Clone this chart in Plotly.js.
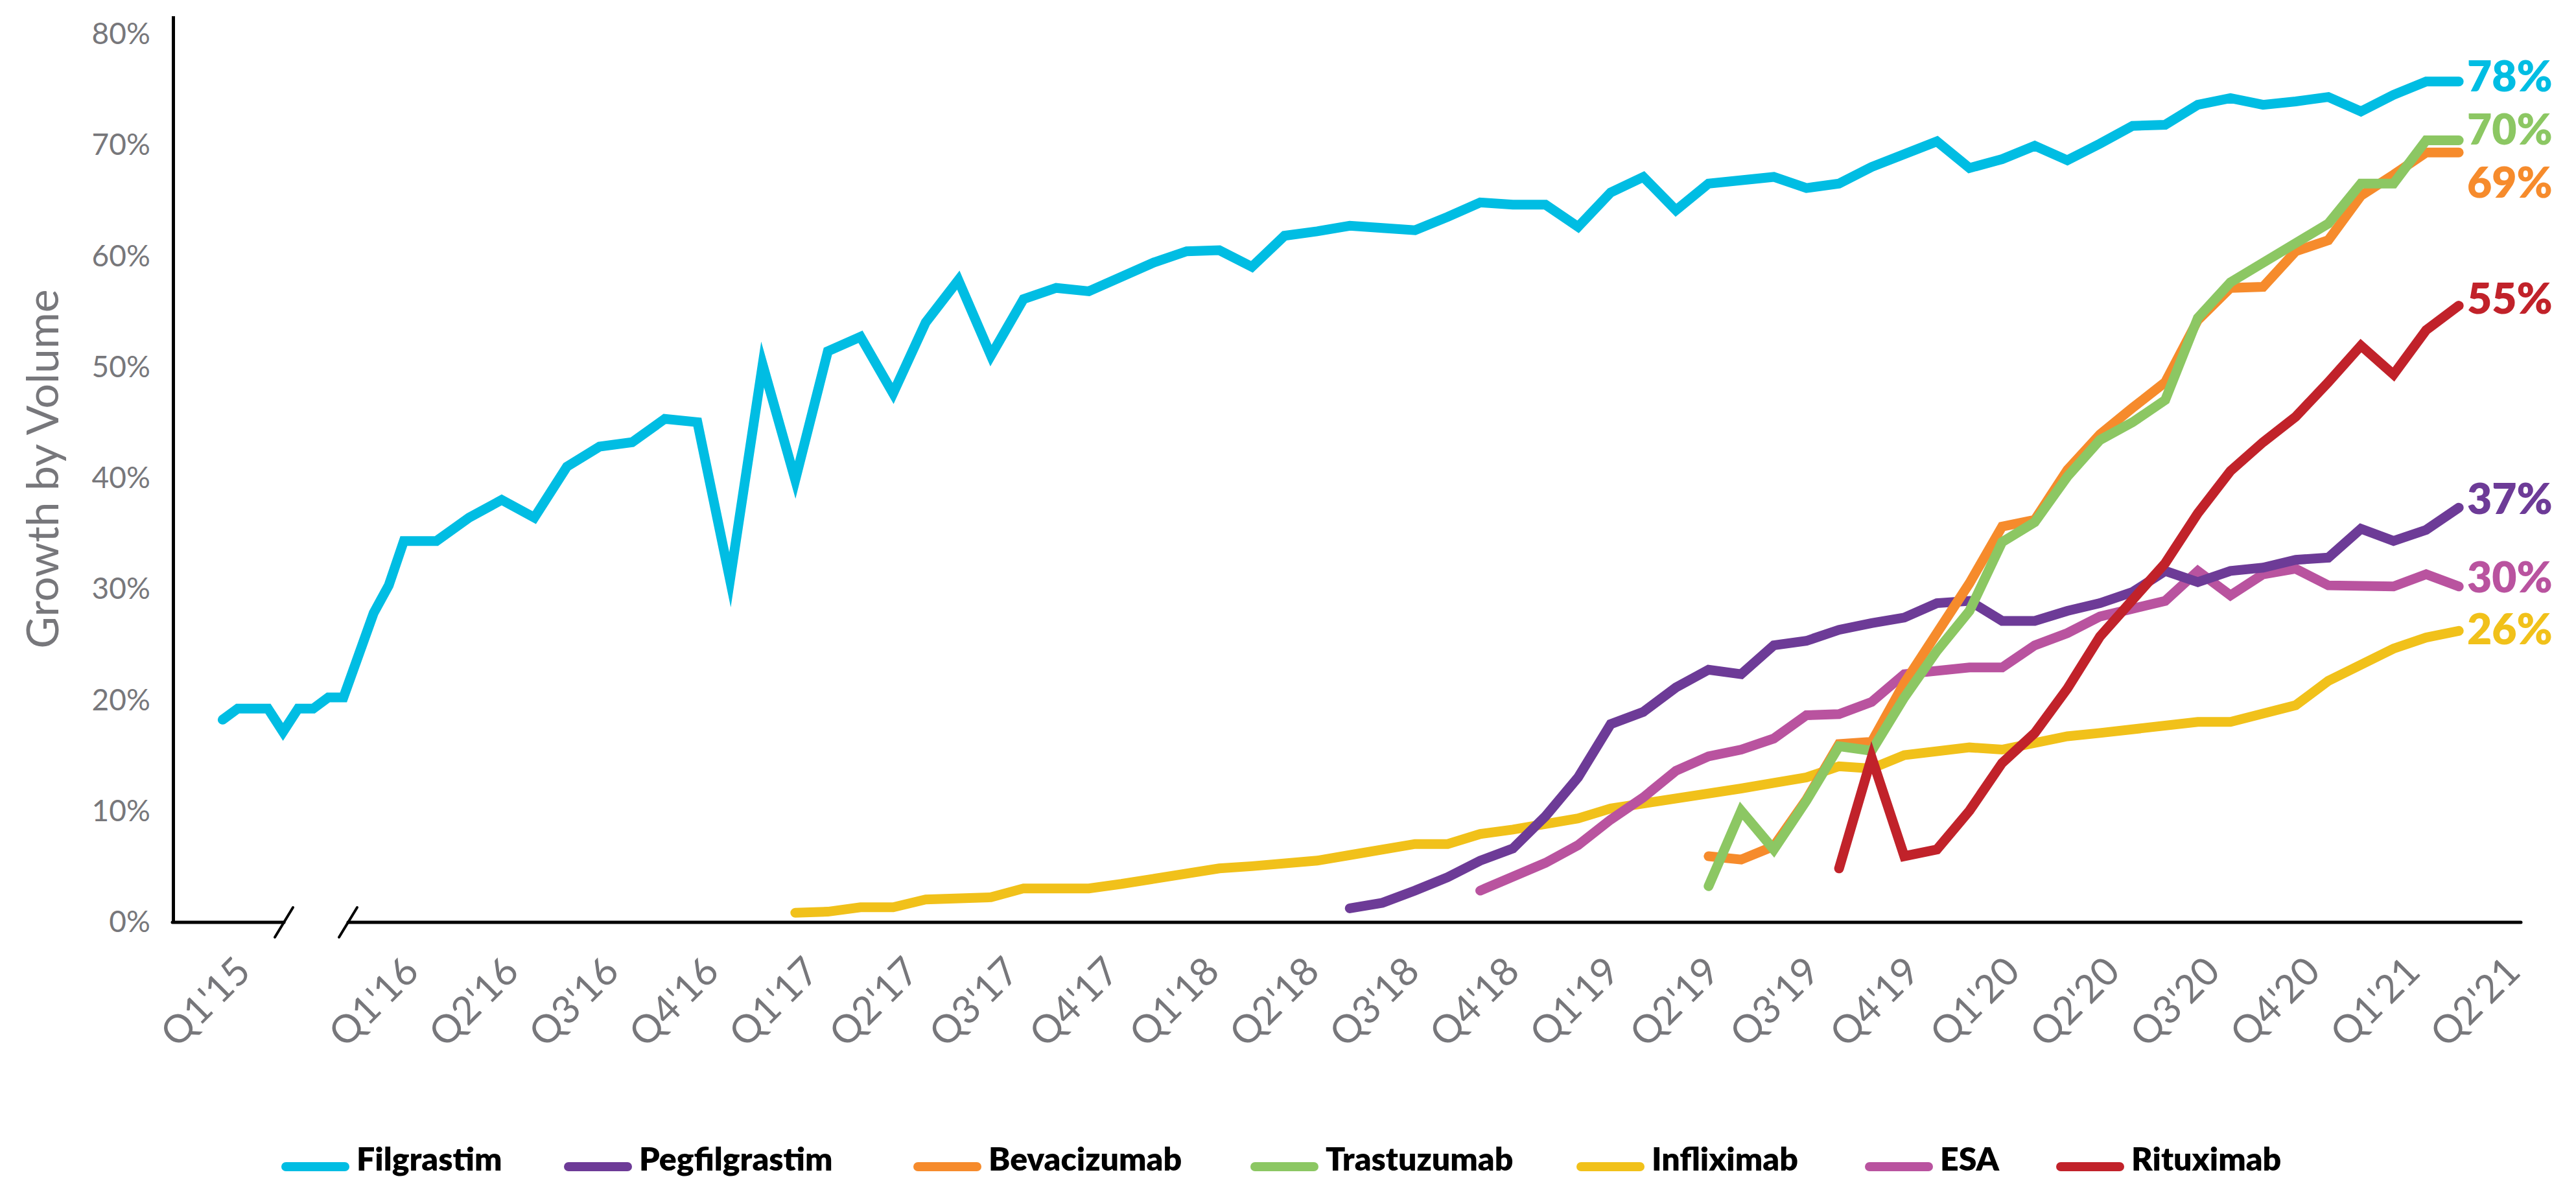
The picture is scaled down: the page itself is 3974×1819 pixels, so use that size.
<!DOCTYPE html>
<html>
<head>
<meta charset="utf-8">
<script src="https://cdn.plot.ly/plotly-3.0.1.min.js"></script>
<style>
html,body{margin:0;padding:0;background:#ffffff;}
#chart{width:3974px;height:1819px;}
.js-line{stroke-linecap:round;stroke-miterlimit:8;}
.shapelayer path{stroke-linecap:round;}
</style>
</head>
<body>
<div id="chart"></div>
<script>
// ---------------- DATA ----------------
const months = [
 '2015-01','2015-02','2015-03','2015-04','2015-05','2015-06','2015-07','2015-08','2015-09','2015-10','2015-11','2015-12',
 '2016-01','2016-02','2016-03','2016-04','2016-05','2016-06','2016-07','2016-08','2016-09','2016-10','2016-11','2016-12',
 '2017-01','2017-02','2017-03','2017-04','2017-05','2017-06','2017-07','2017-08','2017-09','2017-10','2017-11','2017-12',
 '2018-01','2018-02','2018-03','2018-04','2018-05','2018-06','2018-07','2018-08','2018-09','2018-10','2018-11','2018-12',
 '2019-01','2019-02','2019-03','2019-04','2019-05','2019-06','2019-07','2019-08','2019-09','2019-10','2019-11','2019-12',
 '2020-01','2020-02','2020-03','2020-04','2020-05','2020-06','2020-07','2020-08','2020-09','2020-10','2020-11','2020-12',
 '2021-01','2021-02','2021-03','2021-04'
];

const tickLabels = ["Q1'15","Q1'16","Q2'16","Q3'16","Q4'16","Q1'17","Q2'17","Q3'17","Q4'17",
  "Q1'18","Q2'18","Q3'18","Q4'18","Q1'19","Q2'19","Q3'19","Q4'19",
  "Q1'20","Q2'20","Q3'20","Q4'20","Q1'21","Q2'21"];

const seriesNames  = ['Filgrastim','Pegfilgrastim','Bevacizumab','Trastuzumab','Infliximab','ESA','Rituximab'];
const seriesColors = ['#00BDE3','#6D3B97','#F68B2C','#8CC763','#F1C11A','#B9539F','#C1222A'];
const seriesStart  = ['2015-01','2018-06','2019-05','2019-05','2017-01','2018-10','2019-09'];
const endLabels    = ['78%','37%','69%','70%','26%','30%','55%'];

const filgrastim = [
 18.2,19.2,19.2,19.2,17.1,19.2,19.2,20.2,20.2,24.3,27.8,30.3,
 34.3,34.3,36.4,38.0,36.4,41.0,42.8,43.2,45.3,45.0,
 30.8,50.2,39.8,51.4,52.7,47.6,54.0,57.8,51.0,56.1,
 57.1,56.8,58.2,59.4,60.4,60.5,59.0,61.8,62.2,62.7,
 62.5,62.3,63.5,64.8,64.6,64.6,62.6,65.7,67.1,64.1,
 66.5,66.8,67.1,66.1,66.5,68.0,69.2,70.3,67.9,68.7,
 69.9,68.6,70.1,71.7,71.8,73.6,74.2,73.6,73.9,74.3,
 73.0,74.5,75.7,75.7
];
const pegfilgrastim = [
 1.2,1.7,2.8,4.0,5.5,6.6,9.5,13.0,17.8,18.9,21.1,
 22.7,22.3,24.9,25.3,26.3,26.9,27.4,28.7,28.9,27.1,
 27.1,28.0,28.7,29.7,31.6,30.6,31.6,31.9,32.6,32.8,
 35.4,34.3,35.3,37.3
];
const bevacizumab = [
 5.9,5.6,6.8,11.0,16.0,16.2,21.5,26.0,30.5,35.6,36.2,40.7,
 43.9,46.3,48.6,54.2,57.1,57.2,60.4,61.4,65.4,67.3,69.3,69.3
];
const trastuzumab = [
 3.2,10.0,6.5,10.9,15.8,15.4,20.2,24.4,28.0,34.2,36.0,40.1,
 43.4,45.0,47.0,54.4,57.6,59.4,61.1,62.9,66.5,66.5,70.4,70.4
];
const infliximab = [
 0.8,0.9,1.3,1.3,2.0,2.2,2.2,3.0,
 3.0,3.0,3.4,3.9,4.2,4.8,5.0,5.2,5.5,6.0,
 6.6,7.0,7.0,7.9,8.3,8.8,9.3,10.2,10.6,11.1,
 11.5,12.0,12.5,13.0,14.0,13.8,15.0,15.3,15.7,15.5,
 16.2,16.7,17.0,17.3,17.7,18.0,18.0,18.8,19.5,21.7,
 23.1,24.6,25.6,26.2
];
const esa = [
 2.8,4.0,5.3,6.9,9.2,11.2,13.6,
 14.9,15.5,16.5,18.6,18.7,19.8,22.3,22.6,22.9,22.9,
 24.9,26.0,27.5,28.2,28.9,31.6,29.4,31.3,31.8,30.3,
 30.2,30.2,31.3,30.2
];
const rituximab = [
 4.8,14.8,5.9,6.5,10.0,14.3,17.0,21.0,25.7,29.0,
 32.3,36.8,40.6,43.2,45.5,48.6,51.9,49.3,53.3,55.5
];
const seriesValues = [filgrastim, pegfilgrastim, bevacizumab, trastuzumab, infliximab, esa, rituximab];

// ---------------- SCALE (broken time axis: 2015 compressed) ----------------
const COMPRESS_2015 = 0.463;
function monthIndex(s){ const p = s.split('-').map(Number); return (p[0]-2016)*12 + (p[1]-1); }
function axisPos(s){ const k = monthIndex(s); return k < 0 ? k*COMPRESS_2015 : k; }

// ---------------- LAYOUT GEOMETRY ----------------
const W = 3974, H = 1819;
const PL = 270, PR = 3889, PT = 25, PB = 1422;     // plot area in px
const PX_PER_MONTH = 50.32, PX_JAN16 = 623;
const X_MIN = (PL - PX_JAN16)/PX_PER_MONTH, X_MAX = (PR - PX_JAN16)/PX_PER_MONTH;
const Y_MAX = 81.58;
const px2paperX = px => (px - PL)/(PR - PL);
const py2paperY = py => (PB - py)/(PB - PT);

const LABEL_STEP = 3.068, LABEL_OFFSET = 0.1;
const tickVals = tickLabels.map((t,i) => i === 0 ? axisPos('2015-01') + 0.5 : (i-1)*LABEL_STEP + LABEL_OFFSET);

const GRAY = '#77777b';
const FONT = 'Lato, "Open Sans", sans-serif';

// ---------------- TRACES ----------------
const drawOrder = [4, 0, 5, 1, 2, 3, 6];
const traces = drawOrder.map(i => {
  const s0 = months.indexOf(seriesStart[i]);
  const xs = months.slice(s0, s0 + seriesValues[i].length).map(axisPos);
  return {
    type: 'scatter', mode: 'lines', name: seriesNames[i],
    x: xs, y: seriesValues[i],
    line: {color: seriesColors[i], width: 15},
    hoverinfo: 'skip', showlegend: false
  };
});

// ---------------- END LABELS ----------------
const endShift = [10, 16, -44, 19, 5, 16, 13];
const annotations = seriesNames.map((n,i) => {
  const v = seriesValues[i];
  const s0 = months.indexOf(seriesStart[i]);
  const lastMonth = months[s0 + v.length - 1];
  return {
    x: axisPos(lastMonth), y: v[v.length-1], xref: 'x', yref: 'y',
    text: endLabels[i], showarrow: false, xanchor: 'left', yanchor: 'middle',
    xshift: 12, yshift: endShift[i], borderpad: 0,
    font: {family: FONT, size: 66, color: seriesColors[i], weight: 800}
  };
});

// ---------------- LEGEND (custom, under chart) ----------------
const LEGEND_SWATCH_X = [434, 870, 1409, 1929, 2432, 2877, 3172];
const SWATCH_LEN = 105, TEXT_GAP = 115, LEGEND_Y = 1800, LEGEND_TEXT_Y = 1787;
const shapes = [];
seriesNames.forEach((n,i) => {
  shapes.push({type:'line', xref:'paper', yref:'paper',
    x0: px2paperX(LEGEND_SWATCH_X[i] + 7), x1: px2paperX(LEGEND_SWATCH_X[i] + SWATCH_LEN - 7),
    y0: py2paperY(LEGEND_Y), y1: py2paperY(LEGEND_Y),
    line: {color: seriesColors[i], width: 14}});
  annotations.push({xref:'paper', yref:'paper', x: px2paperX(LEGEND_SWATCH_X[i] + TEXT_GAP), y: py2paperY(LEGEND_TEXT_Y),
    text: n, showarrow:false, xanchor:'left', yanchor:'middle', borderpad: 0,
    font:{family: FONT, size: 50, color:'#000000', weight: 800}});
});

// ---------------- X AXIS LINE WITH BREAK ----------------
const BREAK_L = 438, BREAK_R = 537;
const AX_Y = PB + 1;
shapes.push({type:'line', xref:'paper', yref:'paper', x0: px2paperX(PL-4), x1: px2paperX(BREAK_L),
  y0: py2paperY(AX_Y), y1: py2paperY(AX_Y), line:{color:'#000', width:5}});
shapes.push({type:'line', xref:'paper', yref:'paper', x0: px2paperX(BREAK_R), x1: 1,
  y0: py2paperY(AX_Y), y1: py2paperY(AX_Y), line:{color:'#000', width:5}});
[BREAK_L, BREAK_R].forEach(bx => {
  shapes.push({type:'line', xref:'paper', yref:'paper',
    x0: px2paperX(bx - 14), y0: py2paperY(AX_Y + 23),
    x1: px2paperX(bx + 14), y1: py2paperY(AX_Y - 23),
    line:{color:'#000', width:4}});
});

const layout = {
  width: W, height: H,
  margin: {l: PL, r: W - PR, t: PT, b: H - PB, pad: 0},
  paper_bgcolor: '#ffffff', plot_bgcolor: '#ffffff',
  showlegend: false,
  font: {family: FONT},
  xaxis: {
    range: [X_MIN, X_MAX], showline: false, zeroline: false, showgrid: false,
    ticks: '', tickmode: 'array', tickvals: tickVals, ticktext: tickLabels,
    tickangle: -45, ticklabelstandoff: 28,
    tickfont: {family: FONT, size: 60, color: GRAY}, fixedrange: true
  },
  yaxis: {
    range: [0, Y_MAX], showline: true, linewidth: 5, linecolor: '#000',
    zeroline: false, showgrid: false, ticks: '',
    tickmode: 'array', tickvals: [0,10,20,30,40,50,60,70,80],
    ticktext: ['0%','10%','20%','30%','40%','50%','60%','70%','80%'],
    ticklabelstandoff: 24,
    tickfont: {family: FONT, size: 46, color: GRAY},
    title: {text: 'Growth by Volume', font: {family: FONT, size: 68, color: GRAY}, standoff: 30},
    fixedrange: true
  },
  shapes: shapes,
  annotations: annotations
};

Plotly.newPlot('chart', traces, layout, {displayModeBar: false, staticPlot: true});
</script>
</body>
</html>
